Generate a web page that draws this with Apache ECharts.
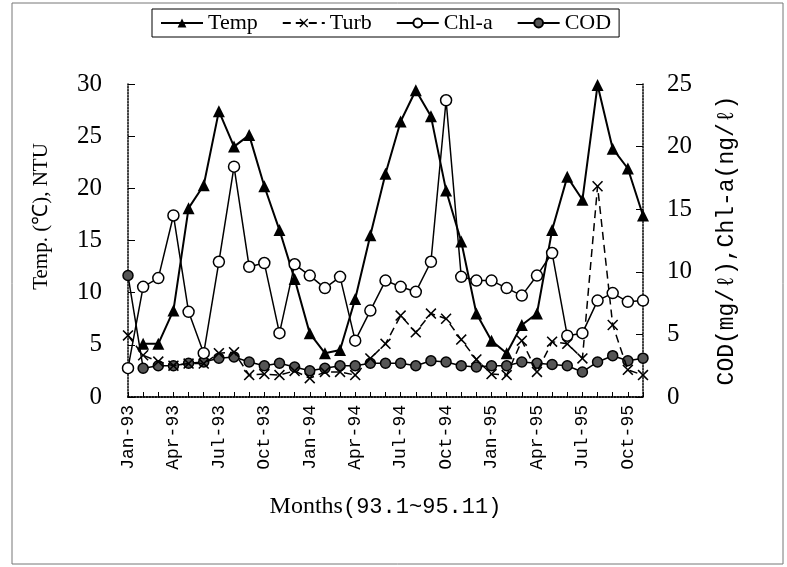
<!DOCTYPE html>
<html>
<head>
<meta charset="utf-8">
<script src="https://cdn.jsdelivr.net/npm/echarts@6/dist/echarts.min.js"></script>
<style>
  html, body { margin: 0; padding: 0; background: #fff; }
  #chart { width: 787px; height: 567px; }
</style>
</head>
<body>
<div id="chart"></div>
<script>
let months = ['Jan-93','Feb-93','Mar-93','Apr-93','May-93','Jun-93','Jul-93','Aug-93','Sep-93','Oct-93','Nov-93','Dec-93',
    'Jan-94','Feb-94','Mar-94','Apr-94','May-94','Jun-94','Jul-94','Aug-94','Sep-94','Oct-94','Nov-94','Dec-94',
    'Jan-95','Feb-95','Mar-95','Apr-95','May-95','Jun-95','Jul-95','Aug-95','Sep-95','Oct-95','Nov-95'];
// left axis: temperature (C) and turbidity (NTU)
let temp = [null,5.1,5.1,8.3,18.1,20.3,27.4,24.0,25.1,20.2,16.0,11.3,
    6.1,4.2,4.5,9.4,15.5,21.4,26.4,29.4,26.9,19.8,14.9,8.0,
    5.4,4.2,6.9,8.0,16.0,21.1,18.9,29.9,23.8,21.9,17.4];
let turb = [5.9,4.0,3.4,3.0,3.2,3.2,4.2,4.3,2.1,2.2,2.1,2.5,
    1.8,2.4,2.4,2.1,3.7,5.1,7.8,6.2,8.0,7.5,5.5,3.6,
    2.2,2.1,5.4,2.4,5.3,5.1,3.7,20.2,6.9,2.6,2.1];
// right axis: chl-a and COD
let chla = [2.3,8.8,9.5,14.5,6.8,3.5,10.8,18.4,10.4,10.7,5.1,10.6,
    9.7,8.7,9.6,4.5,6.9,9.3,8.8,8.4,10.8,23.7,9.6,9.3,
    9.3,8.7,8.1,9.7,11.5,4.9,5.1,7.7,8.3,7.6,7.7];
let cod = [9.7,2.3,2.5,2.5,2.7,2.8,3.1,3.2,2.8,2.5,2.7,2.4,
    2.1,2.3,2.5,2.5,2.7,2.7,2.7,2.5,2.9,2.8,2.5,2.4,
    2.5,2.5,2.8,2.7,2.6,2.5,2.0,2.8,3.3,2.9,3.1];

let serif = '"Liberation Serif", "Times New Roman", serif';
let mono = '"Liberation Mono", "DejaVu Sans Mono", monospace';
let crossPath = 'path://M0,1 L1,0 L5,4 L9,0 L10,1 L6,5 L10,9 L9,10 L5,6 L1,10 L0,9 L4,5 Z';

let myChart = echarts.init(document.getElementById('chart'));

let option = {
    backgroundColor: '#fff',
    animation: false,
    graphic: [{
        type: 'rect',
        shape: { x: 12, y: 3, width: 771, height: 561 },
        style: { fill: 'none', stroke: '#777', lineWidth: 1 }
    }],
    legend: {
        left: 152,
        top: 9,
        padding: [3, 8, 3, 8],
        borderColor: '#000',
        borderWidth: 1,
        itemWidth: 42,
        itemHeight: 11,
        itemGap: 24,
        textStyle: { fontFamily: serif, fontSize: 22, color: '#000' },
        data: ['Temp', 'Turb', 'Chl-a', 'COD']
    },
    grid: {
        left: 128,
        right: 144,
        top: 84,
        bottom: 170
    },
    xAxis: [{
        type: 'category',
        boundaryGap: false,
        data: months,
        axisLine: { lineStyle: { color: '#000', type: 'dotted', width: 1.5 } },
        axisTick: { inside: true, length: 5, interval: 0, lineStyle: { color: '#000' } },
        axisLabel: {
            rotate: 90,
            margin: 8,
            interval: function (index) { return index % 3 === 0; },
            fontFamily: mono,
            fontSize: 18,
            color: '#000'
        },
        name: '{a|Months}{b|(93.1~95.11)}',
        nameLocation: 'middle',
        nameGap: 98,
        nameTextStyle: {
            rich: {
                a: { fontFamily: serif, fontSize: 24, color: '#000' },
                b: { fontFamily: mono, fontSize: 22, color: '#000' }
            }
        }
    }, {
        type: 'category',
        position: 'top',
        boundaryGap: false,
        data: months,
        axisLine: { lineStyle: { color: '#000', type: 'dotted', width: 1.5 } },
        axisTick: { show: false },
        axisLabel: { show: false }
    }],
    yAxis: [{
        type: 'value',
        min: 0,
        max: 30,
        interval: 5,
        position: 'left',
        splitLine: { show: false },
        axisLine: { show: true, lineStyle: { color: '#000', type: 'dotted', width: 1.5 } },
        axisTick: { show: true, inside: true, length: 7, lineStyle: { color: '#000' } },
        axisLabel: { fontFamily: serif, fontSize: 25, color: '#000', margin: 26 },
        name: 'Temp. (\u2103), NTU',
        nameLocation: 'middle',
        nameRotate: 90,
        nameGap: 76,
        nameTextStyle: { fontFamily: serif, fontSize: 21, color: '#000', padding: [0, 0, 0, 48] }
    }, {
        type: 'value',
        min: 0,
        max: 25,
        interval: 5,
        position: 'right',
        splitLine: { show: false },
        axisLine: { show: true, lineStyle: { color: '#000', type: 'dotted', width: 1.5 } },
        axisTick: { show: true, inside: true, length: 7, lineStyle: { color: '#000' } },
        axisLabel: { fontFamily: serif, fontSize: 25, color: '#000', margin: 24 },
        name: 'COD(mg/\u2113),Chl-a(ng/\u2113)',
        nameLocation: 'middle',
        nameRotate: 90,
        nameGap: 72,
        nameTextStyle: { fontFamily: mono, fontSize: 23, color: '#000' }
    }],
    series: [{
        name: 'Temp',
        type: 'line',
        yAxisIndex: 0,
        data: temp,
        symbol: 'triangle',
        symbolSize: 12,
        showAllSymbol: true,
        lineStyle: { color: '#000', width: 2 },
        itemStyle: { color: '#000' },
        z: 4
    }, {
        name: 'Turb',
        type: 'line',
        yAxisIndex: 0,
        data: turb,
        symbol: crossPath,
        symbolSize: 11,
        showAllSymbol: true,
        lineStyle: { color: '#000', width: 1.5, type: [8, 5] },
        itemStyle: { color: '#000' },
        z: 3
    }, {
        name: 'Chl-a',
        type: 'line',
        yAxisIndex: 1,
        data: chla,
        symbol: 'circle',
        symbolSize: 11,
        showAllSymbol: true,
        lineStyle: { color: '#000', width: 1.5 },
        itemStyle: { color: '#fff', borderColor: '#000', borderWidth: 1.5 },
        z: 5
    }, {
        name: 'COD',
        type: 'line',
        yAxisIndex: 1,
        data: cod,
        symbol: 'circle',
        symbolSize: 10,
        showAllSymbol: true,
        lineStyle: { color: '#000', width: 1.5 },
        itemStyle: { color: '#555', borderColor: '#000', borderWidth: 1.5 },
        z: 2
    }]
};
myChart.setOption(option);
</script>
</body>
</html>
